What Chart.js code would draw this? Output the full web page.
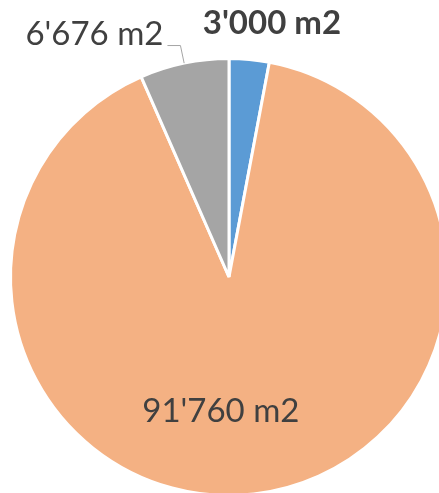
<!DOCTYPE html>
<html>
<head>
<meta charset="utf-8">
<script src="https://cdn.jsdelivr.net/npm/chart.js@4.4.0/dist/chart.umd.min.js"></script>
<style>
  html, body { margin: 0; padding: 0; background: #fff; overflow: hidden; }
  #wrap { position: absolute; left: 0; top: 0; width: 458px; height: 554px; }
</style>
</head>
<body>
<div id="wrap"><canvas id="pie" width="458" height="554"></canvas></div>
<script>
// chart data
const categories = ["A", "B", "C"];
const areas = [3000, 91760, 6676];
const sliceColors = ["#5B9BD5", "#F4B183", "#A5A5A5"];

// label styling per slice (not data)
const labelStyle = [
  { mode: "outside", bold: true, dx: 20, dy: -8 },
  { mode: "inside", bold: false, dx: -23, dy: 4 },
  { mode: "leader", bold: false, dx: 0, dy: 0 },
];

const fmt = (v) => String(v).replace(/\B(?=(\d{3})+(?!\d))/g, "'") + " m2";

const labelPlugin = {
  id: "sliceLabels",
  afterDatasetsDraw(chart) {
    const ctx = chart.ctx;
    const arcs = chart.getDatasetMeta(0).data;
    ctx.save();
    ctx.fillStyle = "#404040";
    ctx.textBaseline = "middle";
    arcs.forEach((arc, i) => {
      const { x, y, startAngle, endAngle, outerRadius } = arc.getProps(
        ["x", "y", "startAngle", "endAngle", "outerRadius"], true);
      const mid = (startAngle + endAngle) / 2;
      const cos = Math.cos(mid), sin = Math.sin(mid);
      const st = labelStyle[i];
      ctx.font = (st.bold ? "bold " : "") + "33px Lato";
      const text = fmt(areas[i]);
      if (st.mode === "inside") {
        ctx.textAlign = "center";
        ctx.fillText(text, x + cos * outerRadius * 0.6 + st.dx, y + sin * outerRadius * 0.6 + st.dy);
      } else if (st.mode === "outside") {
        ctx.textAlign = "center";
        ctx.fillText(text, x + cos * outerRadius * 1.13 + st.dx, y + sin * outerRadius * 1.13 + st.dy);
      } else {
        const ex = x + cos * outerRadius, ey = y + sin * outerRadius;
        const bx = x + cos * (outerRadius + 18), by = y + sin * (outerRadius + 18);
        ctx.strokeStyle = "#A5A5A5";
        ctx.lineWidth = 1;
        ctx.beginPath();
        ctx.moveTo(ex, ey);
        ctx.lineTo(bx, by);
        ctx.lineTo(bx - 13, by);
        ctx.stroke();
        ctx.textAlign = "right";
        ctx.fillText(text, bx - 17, by - 11);
      }
    });
    ctx.restore();
  },
};

new Chart(document.getElementById("pie"), {
  type: "pie",
  data: {
    labels: categories,
    datasets: [{
      data: areas,
      backgroundColor: sliceColors,
      borderColor: "#ffffff",
      borderWidth: 3,
    }],
  },
  options: {
    responsive: false,
    animation: false,
    layout: { padding: { left: 9, right: 9, top: 57, bottom: 57 } },
    plugins: {
      legend: { display: false },
      tooltip: { enabled: false },
    },
  },
  plugins: [labelPlugin],
});
</script>
</body>
</html>
